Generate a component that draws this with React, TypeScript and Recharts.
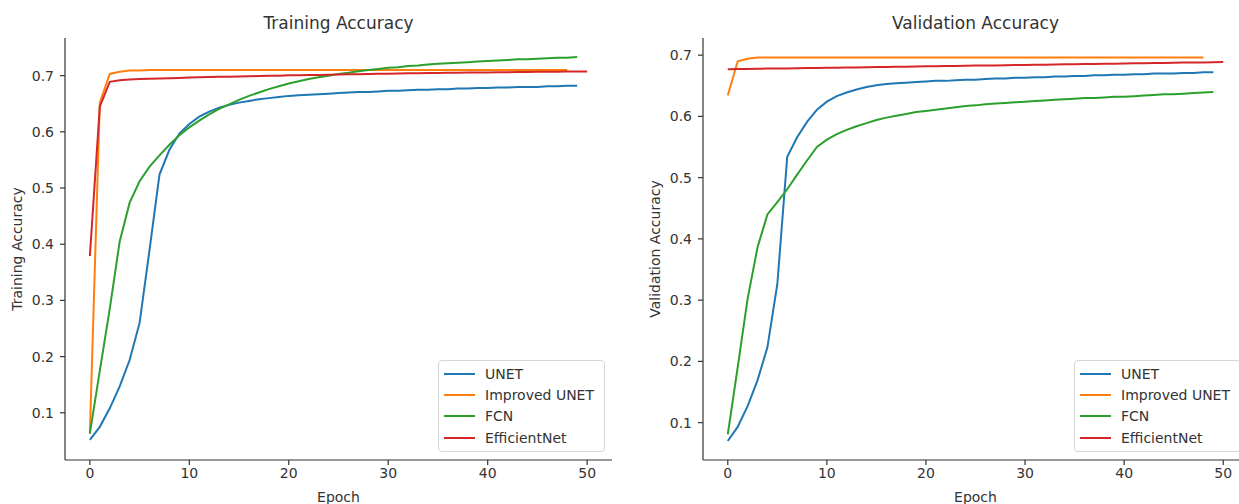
import { LineChart, Line, XAxis, YAxis, Legend, Label } from "recharts";

const FONT = "'DejaVu Sans', sans-serif";

const epochs = [
  0, 1, 2, 3, 4, 5, 6, 7, 8, 9, 10, 11, 12, 13, 14, 15, 16, 17, 18, 19, 20, 21, 22, 23, 24, 25,
  26, 27, 28, 29, 30, 31, 32, 33, 34, 35, 36, 37, 38, 39, 40, 41, 42, 43, 44, 45, 46, 47, 48, 49, 50,
];
const xTicks = [0, 10, 20, 30, 40, 50];
const yTicks = [0.1, 0.2, 0.3, 0.4, 0.5, 0.6, 0.7];

const seriesNames = ["UNET", "Improved UNET", "FCN", "EfficientNet"];
const seriesColors = ["#1f77b4", "#ff7f0e", "#2ca02c", "#d62728"];

// training accuracy
const trainUnet = [
  0.052, 0.075, 0.108, 0.147, 0.194, 0.26, 0.39, 0.524, 0.568, 0.597, 0.614, 0.627, 0.636, 0.643,
  0.648, 0.652, 0.655, 0.658, 0.66, 0.662, 0.664, 0.665, 0.666, 0.667, 0.668, 0.669, 0.67, 0.671,
  0.671, 0.672, 0.673, 0.673, 0.674, 0.675, 0.675, 0.676, 0.676, 0.677, 0.677, 0.678, 0.678, 0.679,
  0.679, 0.68, 0.68, 0.68, 0.681, 0.681, 0.682, 0.682,
];
const trainImproved = [
  0.063, 0.652, 0.703, 0.707, 0.709, 0.709, 0.71, 0.71, 0.71, 0.71, 0.71, 0.71, 0.71, 0.71, 0.71,
  0.71, 0.71, 0.71, 0.71, 0.71, 0.71, 0.71, 0.71, 0.71, 0.71, 0.71, 0.71, 0.71, 0.71, 0.71, 0.71,
  0.71, 0.71, 0.71, 0.71, 0.71, 0.71, 0.71, 0.71, 0.71, 0.71, 0.71, 0.71, 0.71, 0.71, 0.71, 0.71,
  0.71, 0.71,
];
const trainFcn = [
  0.063, 0.175, 0.285, 0.405, 0.474, 0.512, 0.538, 0.558, 0.577, 0.594, 0.608, 0.62, 0.631, 0.641,
  0.649, 0.657, 0.664, 0.67, 0.676, 0.681, 0.686, 0.69, 0.694, 0.697, 0.7, 0.703, 0.705, 0.708,
  0.71, 0.712, 0.714, 0.715, 0.717, 0.718, 0.72, 0.721, 0.722, 0.723, 0.724, 0.725, 0.726, 0.727,
  0.728, 0.729, 0.729, 0.73, 0.731, 0.732, 0.732, 0.733,
];
const trainEfficient = [
  0.379, 0.645, 0.689, 0.692, 0.693, 0.694, 0.6945, 0.695, 0.6955, 0.696, 0.6965, 0.697, 0.6975,
  0.698, 0.6982, 0.6985, 0.699, 0.6993, 0.6996, 0.7, 0.7005, 0.7008, 0.701, 0.7013, 0.7016, 0.702,
  0.7023, 0.7026, 0.703, 0.7033, 0.7036, 0.704, 0.7042, 0.7044, 0.7046, 0.7048, 0.705, 0.7052,
  0.7054, 0.7056, 0.7058, 0.706, 0.7062, 0.7064, 0.7066, 0.7068, 0.707, 0.707, 0.7072, 0.7072,
  0.7074,
];

// validation accuracy
const valUnet = [
  0.07, 0.093, 0.127, 0.169, 0.223, 0.326, 0.534, 0.566, 0.591, 0.611, 0.624, 0.633, 0.639, 0.644,
  0.648, 0.651, 0.653, 0.654, 0.655, 0.656, 0.657, 0.658, 0.658, 0.659, 0.66, 0.66, 0.661, 0.662,
  0.662, 0.663, 0.663, 0.664, 0.664, 0.665, 0.665, 0.666, 0.666, 0.667, 0.667, 0.668, 0.668, 0.669,
  0.669, 0.67, 0.67, 0.67, 0.671, 0.671, 0.672, 0.672,
];
const valImproved = [
  0.634, 0.69, 0.694, 0.696, 0.696, 0.696, 0.696, 0.696, 0.696, 0.696, 0.696, 0.696, 0.696, 0.696,
  0.696, 0.696, 0.696, 0.696, 0.696, 0.696, 0.696, 0.696, 0.696, 0.696, 0.696, 0.696, 0.696, 0.696,
  0.696, 0.696, 0.696, 0.696, 0.696, 0.696, 0.696, 0.696, 0.696, 0.696, 0.696, 0.696, 0.696, 0.696,
  0.696, 0.696, 0.696, 0.696, 0.696, 0.696, 0.696,
];
const valFcn = [
  0.081, 0.19, 0.302, 0.386, 0.44, 0.46, 0.481, 0.505, 0.528, 0.55, 0.562, 0.571, 0.578, 0.584,
  0.589, 0.594, 0.598, 0.601, 0.604, 0.607, 0.609, 0.611, 0.613, 0.615, 0.617, 0.618, 0.62, 0.621,
  0.622, 0.623, 0.624, 0.625, 0.626, 0.627, 0.628, 0.629, 0.63, 0.63, 0.631, 0.632, 0.632, 0.633,
  0.634, 0.635, 0.636, 0.636, 0.637, 0.638, 0.639, 0.64,
];
const valEfficient = [
  0.677, 0.6772, 0.6775, 0.6777, 0.678, 0.6782, 0.6784, 0.6786, 0.6789, 0.6791, 0.6794, 0.6796,
  0.6798, 0.68, 0.6803, 0.6805, 0.6808, 0.681, 0.6812, 0.6815, 0.6817, 0.6819, 0.6822, 0.6824,
  0.6826, 0.6829, 0.6831, 0.6833, 0.6836, 0.6838, 0.684, 0.6843, 0.6845, 0.6847, 0.685, 0.6852,
  0.6854, 0.6857, 0.6859, 0.6861, 0.6864, 0.6866, 0.6868, 0.6871, 0.6873, 0.6875, 0.6878, 0.688,
  0.6882, 0.6885, 0.6887,
];

const buildRows = (series: number[][]) =>
  epochs.map((e) => {
    const row: Record<string, number | undefined> = { epoch: e };
    series.forEach((s, i) => {
      row["s" + i] = s[e];
    });
    return row;
  });

const LegendBox = () => (
  <div
    style={{
      boxSizing: "border-box",
      width: 167,
      height: 92,
      border: "1px solid #d6d6d6",
      borderRadius: 4,
      background: "rgba(255,255,255,0.85)",
      padding: "2px 0 0 5px",
      fontFamily: FONT,
      fontSize: 14,
      color: "#333",
    }}
  >
    {seriesNames.map((n, i) => (
      <div key={n} style={{ display: "flex", alignItems: "center", height: 21.4 }}>
        <span style={{ width: 31, height: 2, background: seriesColors[i], marginRight: 10 }} />
        <span>{n}</span>
      </div>
    ))}
  </div>
);

interface PanelProps {
  title: string;
  yLabel: string;
  series: number[][];
  yDomain: [number, number];
  left: number;
  marginRight: number;
  legendLeft: number;
}

function Panel({ title, yLabel, series, yDomain, left, marginRight, legendLeft }: PanelProps) {
  const data = buildRows(series);
  const plotRight = 620 - marginRight;
  return (
    <div style={{ position: "absolute", left, top: 0, width: 620, height: 504 }}>
      <div
        style={{
          position: "absolute",
          left: 65,
          width: plotRight - 65,
          top: 13,
          textAlign: "center",
          fontFamily: FONT,
          fontSize: 17,
          color: "#333",
        }}
      >
        {title}
      </div>
      <LineChart
        width={620}
        height={504}
        data={data}
        margin={{ top: 38, right: marginRight, bottom: 0, left: 0 }}
        style={{ fontFamily: FONT }}
      >
        <XAxis
          dataKey="epoch"
          type="number"
          domain={[-2.5, 52.5]}
          ticks={xTicks}
          allowDataOverflow
          height={44}
          tickSize={5}
          tickMargin={3}
          stroke="#333"
          strokeWidth={1.2}
          tick={{ fill: "#333", fontSize: 14 }}
        >
          <Label value="Epoch" position="insideBottom" offset={2} fill="#333" fontSize={14} />
        </XAxis>
        <YAxis
          type="number"
          domain={yDomain}
          ticks={yTicks}
          allowDataOverflow
          width={65}
          tickSize={5}
          tickMargin={6}
          stroke="#333"
          strokeWidth={1.2}
          tick={{ fill: "#333", fontSize: 14 }}
          tickFormatter={(v: number) => v.toFixed(1)}
        >
          <Label
            value={yLabel}
            angle={-90}
            position="insideLeft"
            offset={17}
            fill="#333"
            fontSize={14}
            style={{ textAnchor: "middle" }}
          />
        </YAxis>
        {seriesNames.map((n, i) => (
          <Line
            key={n}
            type="linear"
            dataKey={"s" + i}
            name={n}
            stroke={seriesColors[i]}
            strokeWidth={2}
            dot={false}
            activeDot={false}
            isAnimationActive={false}
          />
        ))}
        <Legend
          layout="vertical"
          align="center"
          verticalAlign="middle"
          content={() => <LegendBox />}
          wrapperStyle={{ left: legendLeft, top: 360, width: 167, height: 92 }}
        />
      </LineChart>
    </div>
  );
}

export default function App() {
  return (
    <div
      style={{
        position: "absolute",
        left: 0,
        top: 0,
        width: 1239,
        height: 504,
        overflow: "hidden",
        background: "#fff",
      }}
    >
      <Panel
        title="Training Accuracy"
        yLabel="Training Accuracy"
        series={[trainUnet, trainImproved, trainFcn, trainEfficient]}
        yDomain={[0.016, 0.767]}
        left={0}
        marginRight={8}
        legendLeft={438}
      />
      <Panel
        title="Validation Accuracy"
        yLabel="Validation Accuracy"
        series={[valUnet, valImproved, valFcn, valEfficient]}
        yDomain={[0.039, 0.728]}
        left={638}
        marginRight={10}
        legendLeft={436}
      />
    </div>
  );
}
